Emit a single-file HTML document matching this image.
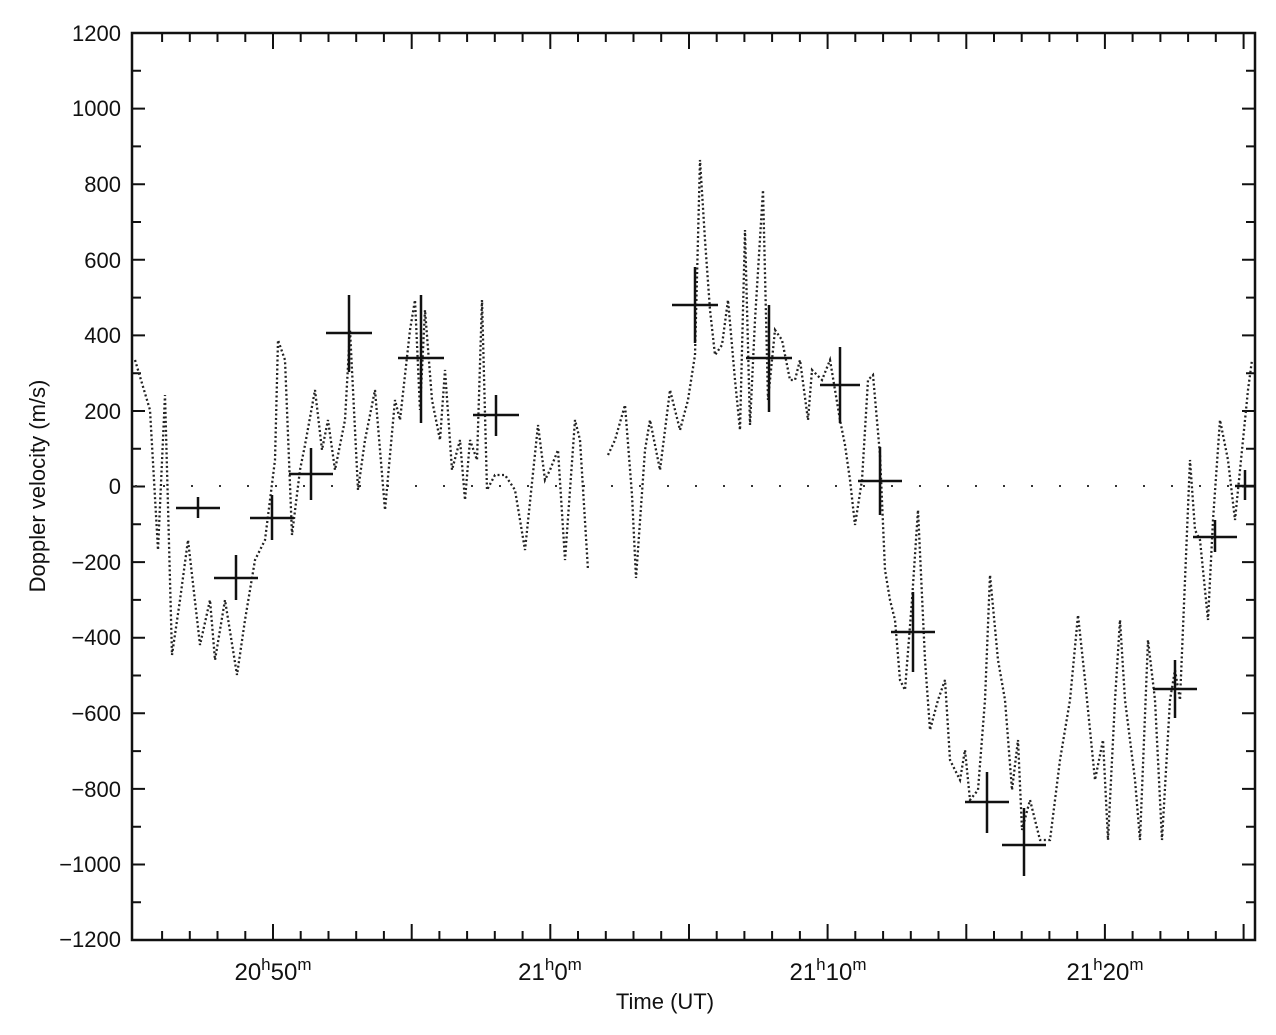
<!DOCTYPE html>
<html><head><meta charset="utf-8"><style>
body{margin:0;background:#fff;}
svg{display:block;font-family:"Liberation Sans",sans-serif;}
</style></head><body>
<svg width="1276" height="1035" viewBox="0 0 1276 1035" xmlns="http://www.w3.org/2000/svg">
<rect width="1276" height="1035" fill="#fff"/>
<g stroke="#111" stroke-width="2" fill="none">
<path d="M132 33h13M132 70.8h9M132 108.6h13M132 146.4h9M132 184.2h13M132 222h9M132 259.8h13M132 297.6h9M132 335.4h13M132 373.2h9M132 411h13M132 448.8h9M132 486.5h13M132 524.3h9M132 562.1h13M132 599.9h9M132 637.7h13M132 675.5h9M132 713.3h13M132 751.1h9M132 788.9h13M132 826.7h9M132 864.5h13M132 902.3h9"/>
<path d="M1255 70.8h-9M1255 108.6h-13M1255 146.4h-9M1255 184.2h-13M1255 222h-9M1255 259.8h-13M1255 297.6h-9M1255 335.4h-13M1255 373.2h-9M1255 411h-13M1255 448.8h-9M1255 486.5h-13M1255 524.3h-9M1255 562.1h-13M1255 599.9h-9M1255 637.7h-13M1255 675.5h-9M1255 713.3h-13M1255 751.1h-9M1255 788.9h-13M1255 826.7h-9M1255 864.5h-13M1255 902.3h-9"/>
<path d="M162.1 940v-9M189.8 940v-9M217.5 940v-9M245.3 940v-9M273 940v-16M300.7 940v-9M328.5 940v-9M356.2 940v-9M383.9 940v-9M411.7 940v-16M439.4 940v-9M467.1 940v-9M494.8 940v-9M522.6 940v-9M550.3 940v-16M578 940v-9M605.8 940v-9M633.5 940v-9M661.2 940v-9M689 940v-16M716.7 940v-9M744.4 940v-9M772.1 940v-9M799.9 940v-9M827.6 940v-16M855.3 940v-9M883.1 940v-9M910.8 940v-9M938.5 940v-9M966.3 940v-16M994 940v-9M1021.7 940v-9M1049.4 940v-9M1077.2 940v-9M1104.9 940v-16M1132.6 940v-9M1160.4 940v-9M1188.1 940v-9M1215.8 940v-9M1243.6 940v-16"/>
<path d="M162.1 33v9M189.8 33v9M217.5 33v9M245.3 33v9M273 33v16M300.7 33v9M328.5 33v9M356.2 33v9M383.9 33v9M411.7 33v16M439.4 33v9M467.1 33v9M494.8 33v9M522.6 33v9M550.3 33v16M578 33v9M605.8 33v9M633.5 33v9M661.2 33v9M689 33v16M716.7 33v9M744.4 33v9M772.1 33v9M799.9 33v9M827.6 33v16M855.3 33v9M883.1 33v9M910.8 33v9M938.5 33v9M966.3 33v16M994 33v9M1021.7 33v9M1049.4 33v9M1077.2 33v9M1104.9 33v16M1132.6 33v9M1160.4 33v9M1188.1 33v9M1215.8 33v9M1243.6 33v16"/>
</g>
<rect x="132" y="33" width="1123" height="907" fill="none" stroke="#111" stroke-width="2.5"/>
<g font-size="22" fill="#111" text-anchor="end">
<text x="121" y="41">1200</text><text x="121" y="116">1000</text><text x="121" y="192">800</text><text x="121" y="268">600</text><text x="121" y="343">400</text><text x="121" y="419">200</text><text x="121" y="494">0</text><text x="121" y="570">−200</text><text x="121" y="645">−400</text><text x="121" y="721">−600</text><text x="121" y="797">−800</text><text x="121" y="872">−1000</text><text x="121" y="947">−1200</text>
</g>
<g font-size="24" fill="#111" text-anchor="middle">
<text x="273" y="980">20<tspan font-size="17" dy="-10">h</tspan><tspan dy="10">50</tspan><tspan font-size="17" dy="-10">m</tspan></text>
<text x="550" y="980">21<tspan font-size="17" dy="-10">h</tspan><tspan dy="10">0</tspan><tspan font-size="17" dy="-10">m</tspan></text>
<text x="828" y="980">21<tspan font-size="17" dy="-10">h</tspan><tspan dy="10">10</tspan><tspan font-size="17" dy="-10">m</tspan></text>
<text x="1105" y="980">21<tspan font-size="17" dy="-10">h</tspan><tspan dy="10">20</tspan><tspan font-size="17" dy="-10">m</tspan></text>
<text x="665" y="1009" font-size="22">Time (UT)</text>
<text transform="translate(45,486) rotate(-90)" font-size="22">Doppler velocity (m/s)</text>
</g>
<line x1="135" y1="486" x2="1255" y2="486" stroke="#333" stroke-width="2" stroke-dasharray="2,26"/>
<polyline fill="none" stroke="#222" stroke-width="2.3" stroke-dasharray="2,2.5" points="135,360 150,410 158,550 165,395 172,655 180,600 188,540 200,645 210,600 215,660 225,600 237,675 245,620 255,560 265,540 275,460 278,340 285,360 292,535 300,470 305,445 315,390 322,450 328,420 335,470 345,420 350,330 358,490 365,440 375,390 385,510 395,400 400,420 410,330 415,300 420,410 425,310 432,400 440,440 445,370 452,470 460,440 465,500 470,440 477,460 482,300 487,490 495,475 505,475 515,490 525,550 538,425 545,480 550,470 558,450 565,560 575,420 580,440 588,570"/>
<polyline fill="none" stroke="#222" stroke-width="2.3" stroke-dasharray="2,2.5" points="608,455 615,440 625,405 632,495 636,578 645,450 650,420 660,470 670,390 680,430 688,400 695,355 700,160 705,240 710,310 715,355 722,345 728,300 735,380 740,430 745,230 750,425 755,320 763,190 768,400 775,330 782,340 790,380 795,380 800,360 808,420 812,370 822,380 830,360 835,390 840,420 845,445 850,480 855,525 862,480 868,380 873,375 880,455 885,570 890,600 895,620 900,680 905,690 912,600 918,510 925,660 930,730 938,700 945,680 950,760 960,780 965,750 970,800 978,790 985,700 990,575 998,660 1005,700 1012,790 1018,740 1022,830 1030,800 1040,840 1050,840 1060,760 1070,700 1078,615 1085,680 1095,780 1103,740 1108,840 1115,700 1120,620 1125,700 1135,780 1140,840 1148,640 1155,700 1162,840 1170,700 1175,670 1180,700 1190,460 1195,530 1200,540 1208,620 1213,520 1220,420 1228,460 1235,520 1242,450 1248,390 1252,360"/>
<path stroke="#111" stroke-width="2.5" fill="none" d="M176 508h44M198 497v21 M214 578h44M236 555v45 M250 518h44M272 495v45 M289 474h44M311 448v52 M326 333h46M349 295v77 M398 358h46M421 295v128 M473 415h46M496 395v41 M672 305h46M695 267v76 M746 358h46M769 305v107 M820 385h40M840 347v76 M858 481h44M880 447v68 M891 632h44M913 592v80 M965 802h44M987 772v61 M1002 845h44M1024 808v68 M1153 689h44M1175 660v58 M1193 537h44M1215 520v32 M1235 486h20M1245 470v30"/>
</svg>
</body></html>
